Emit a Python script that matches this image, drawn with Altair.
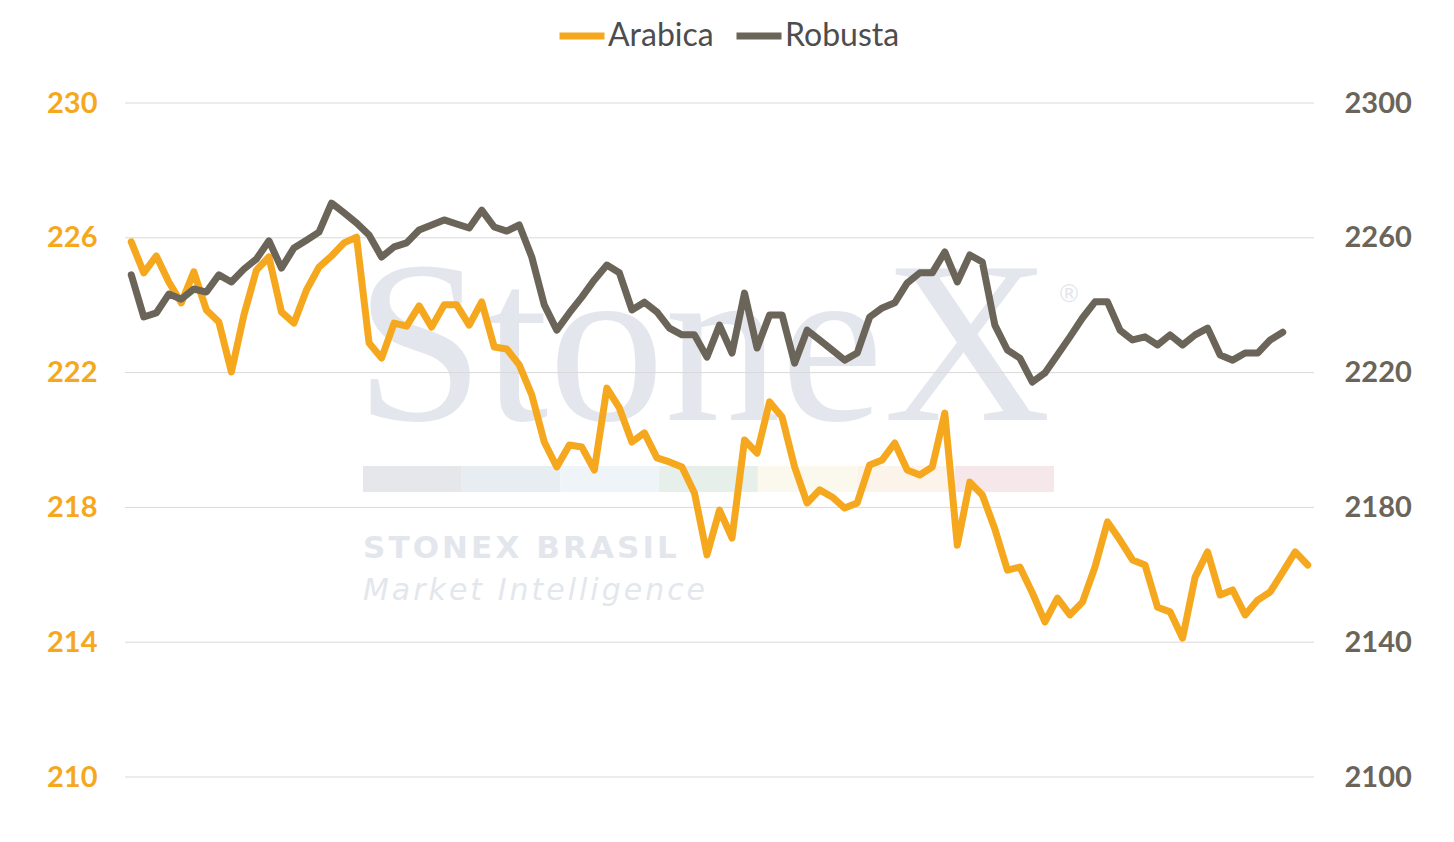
import altair as alt
import pandas as pd

# ---------------- data ----------------
arabica = [
    225.88, 224.96, 225.46, 224.69, 224.07, 224.99, 223.86, 223.50, 222.02, 223.71,
    225.04, 225.43, 223.80, 223.47, 224.45, 225.13, 225.46, 225.85, 226.02, 222.88,
    222.43, 223.47, 223.38, 223.98, 223.35, 224.01, 224.01, 223.41, 224.10, 222.76,
    222.70, 222.23, 221.34, 219.94, 219.20, 219.85, 219.79, 219.11, 221.54, 220.95,
    219.94, 220.21, 219.47, 219.35, 219.20, 218.43, 216.59, 217.92, 217.09, 220.00,
    219.61, 221.13, 220.68, 219.20, 218.13, 218.52, 218.31, 217.98, 218.13, 219.26,
    219.41, 219.91, 219.11, 218.96, 219.20, 220.80, 216.88, 218.75, 218.37, 217.36,
    216.14, 216.23, 215.46, 214.60, 215.31, 214.81, 215.19, 216.23, 217.57, 217.03,
    216.44, 216.29, 215.04, 214.90, 214.12, 215.93, 216.68, 215.40, 215.55, 214.81,
    215.25, 215.49, 216.08, 216.68, 216.29,
]
robusta = [
    2249.0, 2236.5, 2237.7, 2243.3, 2241.8, 2244.8, 2243.9, 2249.0, 2246.9, 2250.7,
    2253.7, 2259.1, 2251.0, 2257.0, 2259.3, 2261.7, 2270.3, 2267.4, 2264.4, 2260.8,
    2254.3, 2257.3, 2258.5, 2262.3, 2263.8, 2265.3, 2264.1, 2262.9, 2268.2, 2263.2,
    2262.0, 2263.8, 2254.3, 2240.1, 2232.6, 2237.7, 2242.4, 2247.5, 2251.9, 2249.6,
    2238.6, 2240.9, 2238.0, 2233.2, 2231.2, 2231.2, 2224.6, 2234.1, 2225.8, 2243.6,
    2227.3, 2237.1, 2237.1, 2222.8, 2232.6, 2229.7, 2226.7, 2223.7, 2225.8, 2236.5,
    2239.2, 2240.7, 2246.6, 2249.6, 2249.6, 2255.8, 2246.9, 2254.9, 2252.8, 2234.1,
    2226.7, 2224.3, 2217.2, 2219.9, 2225.2, 2230.6, 2236.2, 2241.0, 2241.0, 2232.6,
    2229.7, 2230.6, 2228.2, 2231.2, 2228.2, 2231.2, 2233.2, 2225.2, 2223.7, 2225.8,
    2225.8, 2229.7, 2232.0,
]
series_names = ["Arabica", "Robusta"]
series_colors = ["#F5A81E", "#6B6459"]
left_ticks = [210, 214, 218, 222, 226, 230]
right_ticks = [2100, 2140, 2180, 2220, 2260, 2300]

# watermark decoration
wm_color = "#E3E7ED"
band_colors = ["#E5E7EB", "#E8EDF1", "#EEF4F8", "#E6EFEA", "#FBF9EE", "#FCF4EA", "#F6E8EA"]
wm_brand = "StoneX"
wm_line1 = "\u200a".join("STONEX BRASIL")
wm_line2 = "\u200a".join("Market Intelligence")

# ---------------- frames ----------------
n_pts = len(arabica)
df_a = pd.DataFrame({"i": list(range(len(arabica))), "v": arabica, "s": series_names[0]})
df_r = pd.DataFrame({"i": list(range(len(robusta))), "v": robusta, "s": series_names[1]})
df_grid = pd.DataFrame({"t": left_ticks})
df_band = pd.DataFrame({
    "b": list(range(len(band_colors))),
    "b2": [k + 1 for k in range(len(band_colors))],
    "c": band_colors,
})
one = pd.DataFrame({"k": [0]})

W, H = 1189, 674
xscale = alt.Scale(domain=[-0.5, n_pts - 0.5], nice=False, zero=False)
yl_scale = alt.Scale(domain=[left_ticks[0], left_ticks[-1]], nice=False, zero=False)
yr_scale = alt.Scale(domain=[right_ticks[0], right_ticks[-1]], nice=False, zero=False)
color_scale = alt.Scale(domain=series_names, range=series_colors)

# ---------------- watermark ----------------
band = alt.Chart(df_band).mark_rect().encode(
    x=alt.X("b:Q", scale=alt.Scale(domain=[0, 7], range=[238, 929], nice=False, zero=False), axis=None),
    x2="b2:Q",
    y=alt.value(363),
    y2=alt.value(389),
    fill=alt.Fill("c:N", scale=None, legend=None),
)

wm_logo = alt.Chart(one).mark_text(
    align="left", baseline="alphabetic", font="Liberation Serif", fontSize=232, color=wm_color
).encode(x=alt.value(230), y=alt.value(317), text=alt.value(wm_brand))

wm_reg = alt.Chart(one).mark_text(
    align="center", baseline="middle", font="DejaVu Sans", fontSize=24, color=wm_color
).encode(x=alt.value(944), y=alt.value(192), text=alt.value("®"))

wm_brasil = alt.Chart(one).mark_text(
    align="left", baseline="alphabetic", font="DejaVu Sans", fontWeight="bold", fontSize=31, color=wm_color
).encode(x=alt.value(238), y=alt.value(455), text=alt.value(wm_line1))

wm_mi = alt.Chart(one).mark_text(
    align="left", baseline="alphabetic", font="DejaVu Sans", fontStyle="italic", fontWeight=300,
    fontSize=30, color=wm_color
).encode(x=alt.value(238), y=alt.value(497), text=alt.value(wm_line2))

# ---------------- grid ----------------
grid = alt.Chart(df_grid).mark_rule(color="#D9D9D9", strokeWidth=1).encode(
    y=alt.Y("t:Q", scale=yl_scale, axis=None)
)

legend = alt.Legend(
    title=None, orient="none", legendX=431, legendY=-93, direction="horizontal",
    symbolType="stroke", symbolSize=2025, symbolStrokeWidth=7,
    labelFont="Lato", labelFontSize=32, labelColor="#4D4D4D", labelOffset=0,
    columnPadding=8, padding=0,
)

line_a = alt.Chart(df_a).mark_line(strokeWidth=7, strokeCap="round", strokeJoin="round").encode(
    x=alt.X("i:Q", scale=xscale, axis=None),
    y=alt.Y("v:Q", scale=yl_scale, axis=alt.Axis(
        orient="left", values=left_ticks, format="d", title=None, grid=False, domain=False,
        ticks=False, tickSize=0, labelPadding=28, labelColor=series_colors[0], labelFont="Lato",
        labelFontSize=29, labelFontWeight="bold")),
    color=alt.Color("s:N", scale=color_scale, legend=legend),
)

line_r = alt.Chart(df_r).mark_line(strokeWidth=7, strokeCap="round", strokeJoin="round").encode(
    x=alt.X("i:Q", scale=xscale, axis=None),
    y=alt.Y("v:Q", scale=yr_scale, axis=alt.Axis(
        orient="right", values=right_ticks, format="d", title=None, grid=False, domain=False,
        ticks=False, tickSize=0, labelPadding=30, labelColor=series_colors[1], labelFont="Lato",
        labelFontSize=29, labelFontWeight="bold")),
    color=alt.Color("s:N", scale=color_scale, legend=legend),
)

chart = alt.layer(
    band, wm_logo, wm_reg, wm_brasil, wm_mi, grid, line_a, line_r
).resolve_scale(
    y="independent", x="independent"
).properties(
    width=W, height=H, autosize="none",
    padding={"left": 117, "top": 95, "right": 130, "bottom": 50},
    background="white",
).configure_view(stroke=None)

chart.save("out.html", embed_options={"renderer": "svg", "actions": False})
